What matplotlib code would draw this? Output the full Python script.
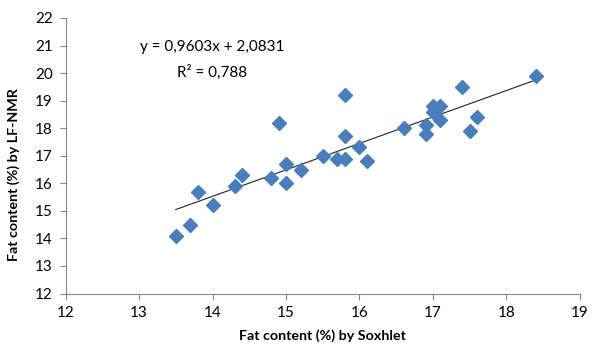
import numpy as np
import matplotlib
matplotlib.use("Agg")
import matplotlib.pyplot as plt

plt.rcParams['font.family'] = ['Lato', 'DejaVu Sans']

# Soxhlet (x) vs LF-NMR (y) fat content
soxhlet = [13.5, 13.7, 13.8, 14.0, 14.3, 14.4, 14.8, 14.9, 15.0, 15.0,
           15.2, 15.5, 15.7, 15.8, 15.8, 15.8, 16.0, 16.1, 16.6, 16.9,
           16.9, 17.0, 17.0, 17.1, 17.1, 17.4, 17.5, 17.6, 18.4]
lfnmr = [14.1, 14.5, 15.7, 15.2, 15.9, 16.3, 16.2, 18.2, 16.7, 16.0,
         16.5, 17.0, 16.9, 16.9, 17.7, 19.2, 17.3, 16.8, 18.0, 17.8,
         18.1, 18.6, 18.8, 18.8, 18.3, 19.5, 17.9, 18.4, 19.9]

slope = 0.9603
intercept = 2.0831
r2 = 0.788

x_ticks = list(range(12, 20))
y_ticks = list(range(12, 23))

fig = plt.figure(figsize=(5.93, 3.5), dpi=100)
ax = fig.add_axes([0.1105, 0.1614, 0.8675, 0.7872])

ax.plot(soxhlet, lfnmr, linestyle='none', marker='D', markersize=7.5,
        color='#4a7ebb', markeredgecolor='#4a7ebb', zorder=3)

xs = np.array([min(soxhlet), max(soxhlet)])
ax.plot(xs, slope * xs + intercept, color='#222222', linewidth=0.8, zorder=2)

ax.text(14.0, 20.95, 'y = 0,9603x + 2,0831', ha='center', va='center', fontsize=11)
ax.text(14.0, 20.04, 'R² = 0,788', ha='center', va='center', fontsize=11)

ax.set_xlim(12, 19)
ax.set_ylim(12, 22)
ax.set_xticks(x_ticks)
ax.set_yticks(y_ticks)
ax.tick_params(axis='both', direction='out', length=4, color='#868686',
               labelsize=11, pad=5)

for side in ['top', 'right']:
    ax.spines[side].set_visible(False)
for side in ['left', 'bottom']:
    ax.spines[side].set_color('#868686')

ax.set_xlabel('Fat content (%) by Soxhlet', fontsize=10.3, fontweight='bold', labelpad=7)
ax.set_ylabel('Fat content (%) by LF-NMR', fontsize=10.3, fontweight='bold', labelpad=9)
ax.yaxis.set_label_coords(-0.088, 0.43)

fig.savefig('out.png', dpi=100)
